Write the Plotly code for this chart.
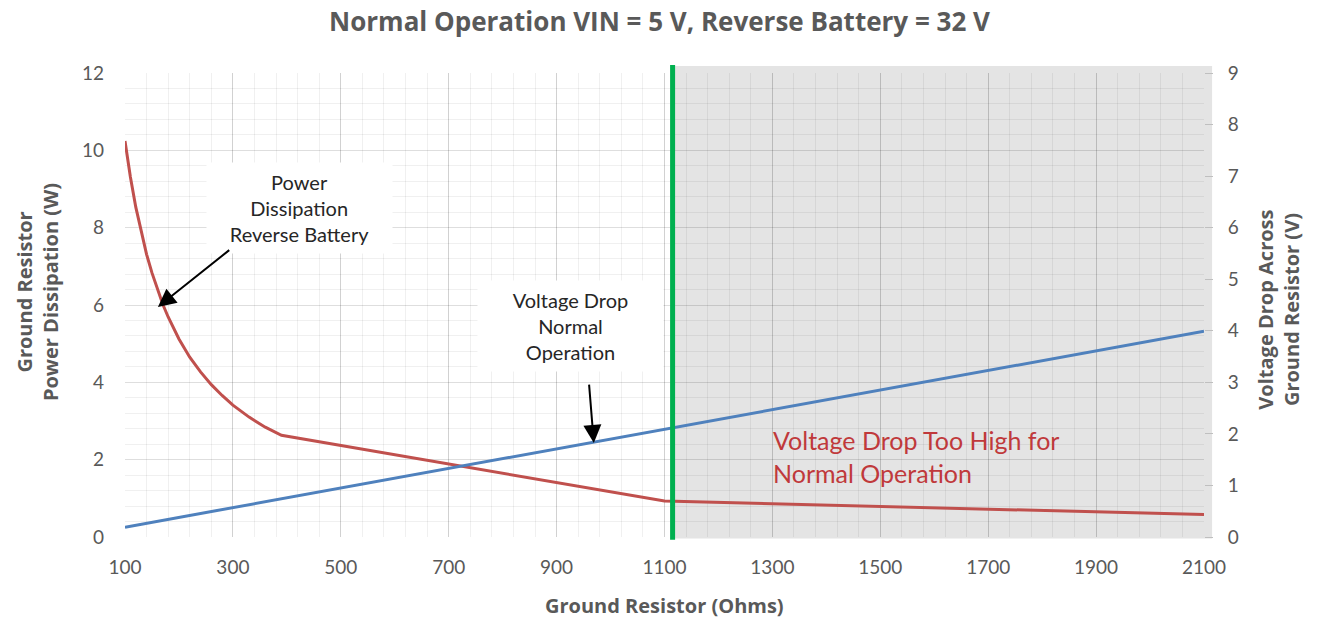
import plotly.graph_objects as go

# Ground resistor values (Ohms) and reverse-battery power dissipation (W)
r_reverse = [100, 110, 120, 130, 140, 150, 160, 170, 180, 190, 200, 220, 240,
             260, 280, 300, 330, 360, 390, 1100, 2100]
p_reverse = [10.24, 9.31, 8.53, 7.88, 7.31, 6.83, 6.40, 6.02, 5.69, 5.39, 5.12,
             4.65, 4.27, 3.94, 3.66, 3.41, 3.10, 2.84, 2.63, 0.93, 0.58]

# Voltage drop across the ground resistor in normal operation (V)
r_normal = [100, 1100, 2100]
v_normal = [0.19, 2.09, 3.99]

# Largest acceptable ground resistor for normal operation
r_limit = 1115
x_ticks = [100, 300, 500, 700, 900, 1100, 1300, 1500, 1700, 1900, 2100]

FONT = "Lato"
BOLD_FONT = "Open Sans"
GREY = "#595959"

fig = go.Figure()

fig.add_trace(go.Scatter(
    x=r_reverse, y=p_reverse, mode="lines",
    line=dict(color="#C0504D", width=3), name="Power Dissipation Reverse Battery",
))
fig.add_trace(go.Scatter(
    x=r_normal, y=v_normal, mode="lines", yaxis="y2",
    line=dict(color="#4F81BD", width=3), name="Voltage Drop Normal Operation",
))

# Shaded region where the voltage drop is too high
fig.add_shape(type="rect", xref="paper", yref="paper",
              x0=(r_limit - 100) / 2000, x1=1.0075, y0=-0.003, y1=1.015,
              fillcolor="#e4e4e4", line_width=0, layer="below")
# Limit marker
fig.add_shape(type="line", xref="paper", yref="paper",
              x0=(r_limit - 100) / 2000, x1=(r_limit - 100) / 2000,
              y0=-0.006, y1=1.017,
              line=dict(color="#00B050", width=5), layer="above")

grid_major = "rgba(0,0,0,0.13)"
grid_minor = "rgba(0,0,0,0.06)"

fig.update_layout(
    width=1319, height=621,
    margin=dict(l=125, r=115, t=73, b=84),
    paper_bgcolor="white", plot_bgcolor="rgba(0,0,0,0)",
    showlegend=False,
    font=dict(family=FONT, color=GREY, size=19),
    title=dict(text="<b>Normal Operation VIN = 5 V, Reverse Battery = 32 V</b>",
               x=0.5, xanchor="center", y=0.9646, yanchor="middle",
               font=dict(size=26, color=GREY, family=BOLD_FONT)),
    xaxis=dict(range=[100, 2100], tickmode="array", tickvals=x_ticks,
               showgrid=True, gridcolor=grid_major, gridwidth=1,
               minor=dict(dtick=40, tick0=100, showgrid=True, gridcolor=grid_minor, gridwidth=1),
               zeroline=False, showline=False, ticks="",
               ticklabelstandoff=17,
               tickfont=dict(size=19, color=GREY, family=FONT)),
    yaxis=dict(range=[0, 12], dtick=2, tick0=0,
               showgrid=True, gridcolor=grid_major, gridwidth=1,
               minor=dict(dtick=0.4, showgrid=True, gridcolor=grid_minor, gridwidth=1),
               zeroline=False, showline=False, ticks="",
               ticklabelstandoff=20,
               tickfont=dict(size=19, color=GREY, family=FONT)),
    yaxis2=dict(range=[0, 9], dtick=1, tick0=0, overlaying="y", side="right",
                showgrid=False, zeroline=False, showline=False,
                ticks="outside", ticklen=8, tickcolor="#bfbfbf", tickwidth=1,
                ticklabelstandoff=11,
                tickfont=dict(size=19, color=GREY, family=FONT)),
)

annotations = [
    # Axis titles
    dict(text="<b>Ground Resistor (Ohms)</b>", xref="paper", yref="paper",
         x=0.5, y=-0.1487, xanchor="center", yanchor="middle", showarrow=False,
         font=dict(size=20, color=GREY, family=BOLD_FONT)),
    dict(text="<b>Ground Resistor<br>Power Dissipation (W)</b>", xref="paper", yref="paper",
         x=-0.0815, y=0.528, xanchor="center", yanchor="middle", showarrow=False,
         textangle=-90, font=dict(size=20, color=GREY, family=BOLD_FONT)),
    dict(text="<b>Voltage Drop Across<br>Ground Resistor (V)</b>", xref="paper", yref="paper",
         x=1.0695, y=0.49, xanchor="center", yanchor="middle", showarrow=False,
         textangle=-90, font=dict(size=20, color=GREY, family=BOLD_FONT)),
    # Callout boxes
    dict(text="Power<br>Dissipation<br>Reverse Battery", x=424, y=8.52,
         xanchor="center", yanchor="middle", showarrow=False,
         bgcolor="white", width=175, height=80, borderpad=5,
         font=dict(size=20, color="#262626", family=FONT)),
    dict(text="Voltage Drop<br>Normal<br>Operation", x=925, y=5.46,
         xanchor="center", yanchor="middle", showarrow=False,
         bgcolor="white", width=175, height=80, borderpad=5,
         font=dict(size=20, color="#262626", family=FONT)),
    # Arrows
    dict(text="", x=161, y=5.95, ax=296, ay=7.45, axref="x", ayref="y",
         showarrow=True, arrowhead=2, arrowsize=1.8, arrowwidth=2, arrowcolor="black"),
    dict(text="", x=969, y=2.43, ax=960, ay=3.98, axref="x", ayref="y",
         showarrow=True, arrowhead=2, arrowsize=1.8, arrowwidth=2, arrowcolor="black"),
    # Region label
    dict(text="Voltage Drop Too High for<br>Normal Operation", x=1298, y=2.07,
         xanchor="left", yanchor="middle", align="left", showarrow=False,
         font=dict(size=25, color="#C0393B", family=FONT)),
]
fig.update_layout(annotations=annotations)

fig.write_html("out.html")
